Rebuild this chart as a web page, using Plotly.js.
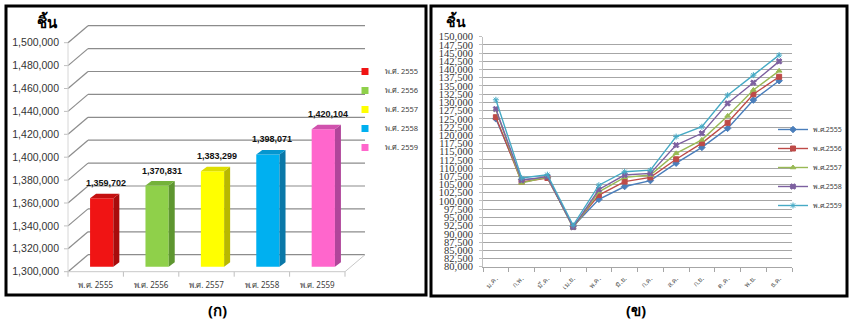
<!DOCTYPE html>
<html><head><meta charset="utf-8">
<script src="https://cdn.plot.ly/plotly-3.0.1.min.js"></script>
<style>html,body{margin:0;padding:0;background:#fff}#chart{width:850px;height:326px}</style>
</head><body><div id="chart"></div>
<script>
// ---------------- DATA ----------------
const yearLabels   = ['พ.ศ. 2555','พ.ศ. 2556','พ.ศ. 2557','พ.ศ. 2558','พ.ศ. 2559'];
const annualPieces = [1359702, 1370831, 1383299, 1398071, 1420104];
const barTickVals  = [1300000,1320000,1340000,1360000,1380000,1400000,1420000,1440000,1460000,1480000,1500000];

const monthLabels = ['ม.ค.','ก.พ.','มี.ค.','เม.ย.','พ.ค.','มิ.ย.','ก.ค.','ส.ค.','ก.ย.','ต.ค.','พ.ย.','ธ.ค.'];
const seriesNames = ['พ.ศ.2555','พ.ศ.2556','พ.ศ.2557','พ.ศ.2558','พ.ศ.2559'];
const m2555 = [125000,106500,107100,92300,100500,104400,106200,111500,116300,122100,130700,136600];
const m2556 = [125500,105800,107000,92200,101800,105900,107200,112700,117600,123800,132500,137800];
const m2557 = [127800,105500,107300,91800,102800,107200,107900,114500,118600,125900,133800,139600];
const m2558 = [128000,106300,107400,92000,103500,107900,108400,117000,120600,129700,136000,142500];
const m2559 = [130800,107000,108000,92600,104800,108900,109400,119600,122600,132200,138300,144400];
const lineTickStep = 2500;

// ---------------- STYLE ----------------
const barFront = ['#f01414','#8fd04a','#ffff00','#00b0f0','#ff66cc'];
const barSide  = ['#a80c0c','#5e9630','#b8b800','#0a78a8','#b0459a'];
const barTop   = ['#c41010','#74b23a','#dede00','#0596cf','#d052ad'];
const lineColors  = ['#4a7ebb','#be4b48','#98b954','#7d60a0','#46aac5'];
const lineSymbols = ['diamond','square','triangle-up','x','asterisk-open'];

const W = 850, H = 326;
const fx = p => p / W, fy = p => 1 - p / H;

// left chart geometry (pixels)
const G = {x0:68, cw:55.4, yFront0:271.7, yFront1:42.7, depthX:20, depthY:17,
           barShiftX:6, barShiftY:5, sideX:6, sideY:4.5, barW:0.42,
           domL:60, domR:372, domT:18, domB:279};
const n = yearLabels.length;
const vMin = barTickVals[0], vMax = barTickVals[barTickVals.length-1];
const ppv = (G.yFront0 - G.yFront1) / (vMax - vMin);
const xAt = p => (p - G.x0) / G.cw - 0.5;
const yAt = p => vMin + (G.yFront0 - p) / ppv;
const dxU = G.depthX / G.cw, dyV = G.depthY / ppv;
const bxU = G.barShiftX / G.cw, byV = G.barShiftY / ppv;
const sxU = G.sideX / G.cw, syV = G.sideY / ppv;
const xr = [xAt(G.domL), xAt(G.domR)], yr = [yAt(G.domB), yAt(G.domT)];

const traces = [];
const shapes = [];
const annotations = [];

// bars (front faces + 3-D side and top faces)
annualPieces.forEach((v,i) => {
  traces.push({type:'bar', x:[i], y:[v - vMin], base:[vMin], width:G.barW, xaxis:'x2', yaxis:'y2',
    marker:{color:barFront[i], line:{width:0}}, showlegend:false, hoverinfo:'skip'});
  const r = i + G.barW/2, l = i - G.barW/2;
  traces.push({type:'scatter', mode:'lines', xaxis:'x2', yaxis:'y2', fill:'toself',
    x:[r, r+sxU, r+sxU, r, r], y:[vMin, vMin+syV, v+syV, v, vMin],
    fillcolor:barSide[i], line:{width:0, color:barSide[i]}, showlegend:false, hoverinfo:'skip'});
  traces.push({type:'scatter', mode:'lines', xaxis:'x2', yaxis:'y2', fill:'toself',
    x:[l, r, r+sxU, l+sxU, l], y:[v, v, v+syV, v+syV, v],
    fillcolor:barTop[i], line:{width:0, color:barTop[i]}, showlegend:false, hoverinfo:'skip'});
  annotations.push({xref:'x2', yref:'y2', x:i + sxU*0.75, y:v, yshift:15, showarrow:false,
    text:'<b>' + v.toLocaleString('en-US') + '</b>', font:{family:'Liberation Sans, Arial, sans-serif', size:9, color:'#111'},
    yanchor:'middle'});
  traces.push({type:'scatter', mode:'markers', x:[null], y:[null], xaxis:'x2', yaxis:'y2',
    name:yearLabels[i], legend:'legend', marker:{symbol:'square', size:7, color:barFront[i]}});
});

// 3-D wall gridlines, floor and ticks
const gridC = '#8c8c8c';
barTickVals.forEach(v => {
  shapes.push({type:'line', xref:'x', yref:'y', x0:-0.5, y0:v, x1:-0.5+dxU, y1:v+dyV, line:{color:gridC, width:1.2}, layer:'below'});
  shapes.push({type:'line', xref:'x', yref:'y', x0:-0.5+dxU, y0:v+dyV, x1:n-0.5+dxU, y1:v+dyV, line:{color:gridC, width:1.2}, layer:'below'});
  shapes.push({type:'line', xref:'paper', yref:'y', x0:fx(64), x1:fx(68), y0:v, y1:v, line:{color:'#bfbfbf', width:1}, layer:'below'});
});
shapes.push({type:'path', xref:'x', yref:'y', path:`M${-0.5},${vMin} L${n-0.5},${vMin} L${n-0.5+dxU},${vMin+dyV}`,
  line:{color:'#c8c8c8', width:1}, layer:'below'});
shapes.push({type:'line', xref:'x', yref:'y', x0:-0.5, x1:-0.5, y0:vMin, y1:vMax, line:{color:'#d6d6d6', width:1}, layer:'below'});
for (let b = 0; b <= n; b++) {
  shapes.push({type:'line', xref:'x', yref:'paper', x0:b-0.5, x1:b-0.5, y0:fy(G.yFront0), y1:fy(G.yFront0+5),
    line:{color:'#bfbfbf', width:1}, layer:'below'});
}

// line chart
[m2555, m2556, m2557, m2558, m2559].forEach((s,k) => {
  traces.push({type:'scatter', mode:'lines+markers', x:monthLabels, y:s, xaxis:'x3', yaxis:'y3',
    name:seriesNames[k], legend:'legend2',
    line:{color:lineColors[k], width:1.4},
    marker:{symbol:lineSymbols[k], size:5, color:lineColors[k], line:{color:lineColors[k], width:1}}});
});

// frames
shapes.push({type:'rect', xref:'paper', yref:'paper', x0:fx(6), x1:fx(426), y0:fy(295), y1:fy(6), line:{color:'#000', width:3}, layer:'above'});
shapes.push({type:'rect', xref:'paper', yref:'paper', x0:fx(431), x1:fx(847), y0:fy(296), y1:fy(6), line:{color:'#000', width:3}, layer:'above'});

// titles
const thaiFont = 'Noto Sans, Tahoma, sans-serif';
annotations.push({xref:'paper', yref:'paper', x:fx(35), y:fy(9), text:'<b>ชิ้น</b>', showarrow:false, font:{family:thaiFont, size:15, color:'#000'}});
annotations.push({xref:'paper', yref:'paper', x:fx(456), y:fy(9), text:'<b>ชิ้น</b>', showarrow:false, font:{family:thaiFont, size:14, color:'#000'}});
annotations.push({xref:'paper', yref:'paper', x:fx(206), y:fy(322), text:'<b>(ก)</b>', showarrow:false, font:{family:thaiFont, size:15, color:'#000'}});
annotations.push({xref:'paper', yref:'paper', x:fx(648), y:fy(322), text:'<b>(ข)</b>', showarrow:false, font:{family:thaiFont, size:15, color:'#000'}});

const layout = {
  width:W, height:H, margin:{l:0, r:0, t:0, b:0}, paper_bgcolor:'#fff', plot_bgcolor:'rgba(0,0,0,0)',
  font:{family:'Liberation Sans, Noto Sans, sans-serif', color:'#404040'},
  barmode:'overlay', showlegend:true,
  xaxis:{domain:[fx(G.domL), fx(G.domR)], anchor:'y', range:xr, tickvals:yearLabels.map((_,i)=>i), ticktext:yearLabels,
    showgrid:false, zeroline:false, showline:false, ticks:'', tickfont:{size:8, color:'#404040', family:thaiFont}, fixedrange:true},
  yaxis:{domain:[fy(G.domB), fy(G.domT)], anchor:'x', range:yr, tickvals:barTickVals, tickformat:',d',
    showgrid:false, zeroline:false, showline:false, ticks:'', tickfont:{size:10.5, color:'#333'}, fixedrange:true},
  xaxis2:{domain:[fx(G.domL), fx(G.domR)], anchor:'y2', overlaying:'x', range:[xr[0]-bxU, xr[1]-bxU], visible:false},
  yaxis2:{domain:[fy(G.domB), fy(G.domT)], anchor:'x2', overlaying:'y', range:[yr[0]-byV, yr[1]-byV], visible:false},
  xaxis3:{domain:[fx(483), fx(792)], anchor:'y3', type:'category', range:[-0.5, monthLabels.length-0.5],
    tickson:'boundaries', ticks:'outside', ticklen:4, tickcolor:'#a6a6a6', showline:true, linecolor:'#a6a6a6',
    tickangle:-45, ticklabelstandoff:4, tickfont:{size:7, color:'#595959', family:thaiFont}, showgrid:false, zeroline:false},
  yaxis3:{domain:[fy(266.7), fy(36.7)], anchor:'x3', range:[80000,150000], tick0:80000, dtick:lineTickStep, tickformat:',d',
    showgrid:true, gridcolor:'#a6a6a6', gridwidth:1, zeroline:false, showline:true, linecolor:'#c0c0c0',
    ticks:'outside', ticklen:3, tickcolor:'#c0c0c0', ticklabelstandoff:4,
    tickfont:{family:'Liberation Serif, serif', size:10.5, color:'#333'}},
  legend:{x:fx(345), y:fy(57), xanchor:'left', yanchor:'top', bgcolor:'rgba(0,0,0,0)', font:{size:7.5, color:'#404040', family:thaiFont}},
  legend2:{x:fx(773), y:fy(115), xanchor:'left', yanchor:'top', bgcolor:'rgba(0,0,0,0)', font:{size:7, color:'#404040', family:thaiFont}},
  shapes:shapes, annotations:annotations
};
Plotly.newPlot('chart', traces, layout, {staticPlot:true, displayModeBar:false});
</script></body></html>
